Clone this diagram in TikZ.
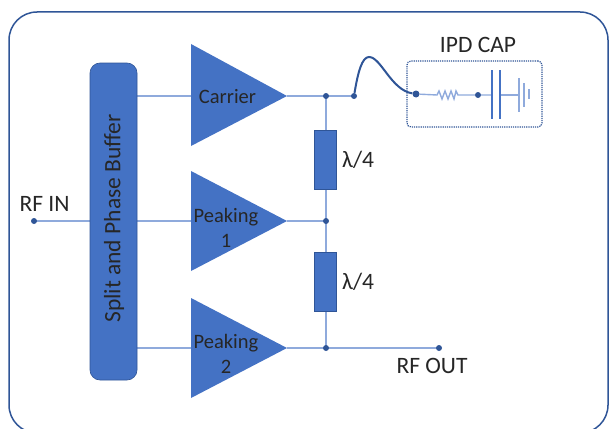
\documentclass[tikz,border=0pt]{standalone}
\usepackage{fontspec}
\setmainfont{Carlito}
\definecolor{fillblue}{HTML}{4472C4}
\definecolor{edgeblue}{HTML}{2F5597}
\definecolor{wireblue}{HTML}{8FAADC}
\definecolor{txt}{HTML}{262626}
\tikzset{
  block/.style={fill=fillblue,draw=edgeblue,line width=0.6pt},
  wire/.style={draw=wireblue,line width=1.8pt},
  thinwire/.style={draw=wireblue,line width=1.4pt},
  dotn/.style={circle,fill=edgeblue,inner sep=0pt,minimum size=6pt},
  lab/.style={text=txt,font=\fontsize{23.5}{26}\selectfont,inner sep=0pt},
  amplab/.style={text=txt,font=\fontsize{20.5}{25}\selectfont,inner sep=0pt,align=center},
}
\begin{document}
\begin{tikzpicture}[x=1pt,y=-1pt]
\useasboundingbox (0,0) rectangle (612,428);
\clip (0,0) rectangle (612,428);
\draw[draw=edgeblue,line width=1.5pt,rounded corners=28pt] (9,12) rectangle (608,433);
\coordinate (inc) at (34,221);
\coordinate (j1c) at (326,96);
\coordinate (j2c) at (326,221);
\coordinate (j3c) at (326,348);
\coordinate (outc) at (439,348);
\coordinate (bondc) at (354,96);
\coordinate (d3c) at (478,95);
\coordinate (t1a) at (191,96); \coordinate (t1b) at (287,96);
\coordinate (t2a) at (191,221); \coordinate (t2b) at (287,221);
\coordinate (t3a) at (191,348); \coordinate (t3b) at (287,348);
\coordinate (b1) at (137,96); \coordinate (b2) at (137,221);
\coordinate (b3) at (137,348); \coordinate (b0) at (90,221);
% wires
\draw[wire] (inc) -- (b0);
\draw[wire] (b1) -- (t1a);
\draw[wire] (b2) -- (t2a);
\draw[wire] (b3) -- (t3a);
\draw[wire] (t1b) -- (bondc);
\draw[wire] (t2b) -- (j2c);
\draw[wire] (t3b) -- (outc);
\draw[wire] (j1c) -- (j2c);
\draw[wire] (j2c) -- (j3c);
\node[dotn] (in) at (inc) {};
\node[dotn] (j1) at (j1c) {};
\node[dotn] (j2) at (j2c) {};
\node[dotn] (j3) at (j3c) {};
\node[dotn] (out) at (outc) {};
\node[dotn] (bond) at (bondc) {};
\node[dotn,minimum size=7pt] (d2) at (416,94) {};
\node[dotn] (d3) at (d3c) {};
\node[block,rounded corners=10pt,minimum width=47pt,minimum height=317pt,inner sep=0pt] (buf) at (113.5,221.5) {};
\node[rotate=90,text=txt,font=\fontsize{23.5}{26}\selectfont,inner sep=0pt] (buftext) at (114,218.5) {Split and Phase Buffer};
\fill[fillblue] (191,44) -- (191,146) -- (287,96) -- cycle;
\fill[fillblue] (191,171) -- (191,271) -- (287,221) -- cycle;
\fill[fillblue] (191,298) -- (191,398) -- (287,348) -- cycle;
\node[amplab] (a1) at (227.5,96.5) {Carrier};
\node[amplab] (a2) at (226,228) {Peaking\\1};
\node[amplab] (a3) at (226,354) {Peaking\\2};
\node[block,minimum width=22pt,minimum height=59pt,inner sep=0pt] (r1) at (325,159.5) {};
\node[block,minimum width=22pt,minimum height=59pt,inner sep=0pt] (r2) at (325,281.5) {};
\node[lab,anchor=west] (l1) at (342,160) {λ/4};
\node[lab,anchor=west] (l2) at (342,282) {λ/4};
\node[lab] (rfin) at (44.5,204) {RF IN};
\node[lab] (rfout) at (432,366) {RF OUT};
\node[lab] (ipd) at (478,45) {IPD CAP};
% IPD box
\node[draw=edgeblue,densely dotted,line width=1.2pt,rounded corners=4pt,minimum width=135pt,minimum height=66pt,inner sep=0pt] (box) at (474.5,94) {};
% bond wire
\draw[draw=edgeblue,line width=2pt] (bond) .. controls (358,72) and (362,57) .. (369,57) .. controls (381,57) and (391,90) .. (d2);
% resistor and capacitor
\coordinate (z0) at (437,95); \coordinate (z1) at (458,95);
\coordinate (p1) at (492,95); \coordinate (p2) at (500,95); \coordinate (g) at (519,95);
\draw[thinwire] (d2) -- (z0) -- (439,91) -- (442,99) -- (445,91) -- (448,99) -- (451,91) -- (454,99) -- (456,91) -- (z1) -- (d3) -- (p1);
\draw[thinwire] (p2) -- (g);
\draw[draw=fillblue,line width=2.4pt] (492,70) -- (492,119);
\draw[draw=fillblue,line width=2.4pt] (500,70) -- (500,119);
\draw[thinwire] (519,78) -- (519,112);
\draw[thinwire] (524,83) -- (524,107);
\draw[thinwire] (529,89) -- (529,99);
\end{tikzpicture}
\end{document}
